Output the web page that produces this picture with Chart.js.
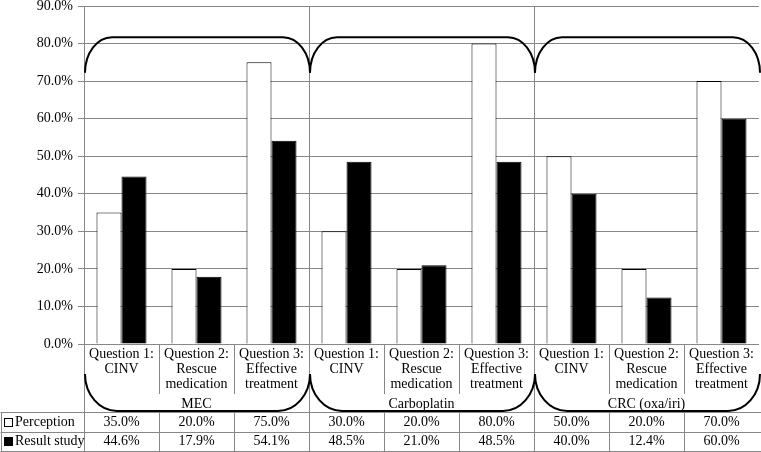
<!DOCTYPE html>
<html>
<head>
<meta charset="utf-8">
<script src="https://cdn.jsdelivr.net/npm/chart.js@4.4.1/dist/chart.umd.min.js"></script>
<style>
  html, body { margin: 0; padding: 0; background: #fff; }
  #wrap { width: 761px; height: 452px; }
</style>
</head>
<body>
<div id="wrap"><canvas id="c" width="761" height="452"></canvas></div>
<script>
// ---- data ----
const groups = ['MEC', 'Carboplatin', 'CRC (oxa/iri)'];
const questionLines = [
  ['Question 1:', 'CINV'],
  ['Question 2:', 'Rescue', 'medication'],
  ['Question 3:', 'Effective', 'treatment']
];
const seriesNames = ['Perception', 'Result study'];
const perception  = [35.0, 20.0, 75.0, 30.0, 20.0, 80.0, 50.0, 20.0, 70.0];
const resultStudy = [44.6, 17.9, 54.1, 48.5, 21.0, 48.5, 40.0, 12.4, 60.0];
const yTicks = [0, 10, 20, 30, 40, 50, 60, 70, 80, 90];

// ---- build ----
const categories = [];
const categoryLines = [];
groups.forEach(g => questionLines.forEach(q => { categories.push(g + ' ' + q.join(' ')); categoryLines.push(q); }));

const FONT = '14px "Liberation Serif", "Times New Roman", serif';
const GRID = '#878787';

const tablePlugin = {
  id: 'tablePlugin',
  afterDraw(chart) {
    const ctx = chart.ctx;
    const x = chart.scales.x, y = chart.scales.y;
    const ca = chart.chartArea;
    const W = chart.width;
    const n = categories.length;
    const step = x.getPixelForValue(1) - x.getPixelForValue(0);
    const bnd = i => Math.round(x.getPixelForValue(i) - step / 2) + 0.5; // left boundary of category i
    const b = ca.bottom;
    const rowTop = Math.round(b + 68) + 0.5, rowMid = Math.round(b + 88) + 0.5, rowBot = Math.round(b + 107) + 0.5;

    ctx.save();
    ctx.strokeStyle = GRID;
    ctx.lineWidth = 1;
    ctx.beginPath();
    for (let g = 1; g < groups.length; g++) {
      const xx = bnd(g * questionLines.length);
      ctx.moveTo(xx, ca.top); ctx.lineTo(xx, rowBot);
    }
    const xl = Math.round(ca.left) + 0.5;
    ctx.moveTo(xl, b); ctx.lineTo(xl, rowBot);
    for (let i = 1; i < n; i++) {
      if (i % questionLines.length === 0) continue;
      const xx = bnd(i);
      ctx.moveTo(xx, b); ctx.lineTo(xx, b + 50);
      ctx.moveTo(xx, rowTop); ctx.lineTo(xx, rowBot);
    }
    [rowTop, rowMid, rowBot].forEach(yy => { ctx.moveTo(0.5, yy); ctx.lineTo(W, yy); });
    ctx.moveTo(1.5, rowTop); ctx.lineTo(1.5, rowBot);
    ctx.stroke();

    // texts
    ctx.fillStyle = '#000';
    ctx.font = FONT;
    ctx.textAlign = 'center';
    ctx.textBaseline = 'middle';
    for (let i = 0; i < n; i++) {
      const cx = x.getPixelForValue(i);
      categoryLines[i].forEach((line, k) => ctx.fillText(line, cx, b + 10 + k * 15));
      ctx.fillText(perception[i].toFixed(1) + '%', cx, b + 78);
      ctx.fillText(resultStudy[i].toFixed(1) + '%', cx, b + 97);
    }
    groups.forEach((g, gi) => {
      const x0 = x.getPixelForValue(gi * 3) - step / 2;
      const x1 = x.getPixelForValue(gi * 3 + 2) + step / 2;
      ctx.fillText(g, (x0 + x1) / 2, b + 60);
    });
    ctx.textAlign = 'left';
    ctx.fillText(seriesNames[0], 15, b + 78);
    ctx.fillText(seriesNames[1], 15, b + 97);
    ctx.fillStyle = '#fff';
    ctx.strokeStyle = '#000';
    ctx.fillRect(4.5, Math.round(b + 74) + 0.5, 8, 8);
    ctx.strokeRect(4.5, Math.round(b + 74) + 0.5, 8, 8);
    ctx.fillStyle = '#000';
    ctx.fillRect(4, Math.round(b + 93), 9, 9);

    // braces
    ctx.strokeStyle = '#000';
    ctx.lineWidth = 2;
    const yT = y.getPixelForValue(81.7), yB = y.getPixelForValue(72.2);
    const rxT = 27;
    const yBT = b + 30, yBB = b + 67;
    const rxB = 32;
    groups.forEach((g, gi) => {
      const x0 = x.getPixelForValue(gi * 3) - step / 2 + 1;
      const x1 = Math.min(x.getPixelForValue(gi * 3 + 2) + step / 2 + 1, W - 1);
      ctx.beginPath();
      ctx.ellipse(x0 + rxT, yB, rxT, yB - yT, 0, Math.PI, 1.5 * Math.PI);
      ctx.lineTo(x1 - rxT, yT);
      ctx.ellipse(x1 - rxT, yB, rxT, yB - yT, 0, 1.5 * Math.PI, 2 * Math.PI);
      ctx.stroke();
      ctx.beginPath();
      ctx.ellipse(x0 + rxB, yBT, rxB, yBB - yBT, 0, Math.PI, 0.5 * Math.PI, true);
      ctx.lineTo(x1 - rxB, yBB);
      ctx.ellipse(x1 - rxB, yBT, rxB, yBB - yBT, 0, 0.5 * Math.PI, 0, true);
      ctx.stroke();
    });
    ctx.restore();
  }
};

new Chart(document.getElementById('c'), {
  type: 'bar',
  data: {
    labels: categories,
    datasets: [
      { label: seriesNames[0], data: perception, backgroundColor: '#ffffff', borderColor: '#000000', borderWidth: 1 },
      { label: seriesNames[1], data: resultStudy, backgroundColor: '#000000', borderColor: '#000000', borderWidth: 1 }
    ]
  },
  options: {
    responsive: false,
    devicePixelRatio: 1,
    animation: false,
    layout: { padding: { left: 0, right: 2, top: 6, bottom: 108 } },
    plugins: { legend: { display: false }, tooltip: { enabled: false } },
    datasets: { bar: { categoryPercentage: 0.667, barPercentage: 1.0 } },
    scales: {
      x: { display: false, offset: true },
      y: {
        min: 0, max: 90,
        afterBuildTicks: s => { s.ticks = yTicks.map(v => ({ value: v })); },
        afterFit: s => { s.width = 84; s.paddingTop = 0; s.paddingBottom = 0; },
        ticks: {
          color: '#000',
          padding: 5,
          font: { family: '"Liberation Serif", "Times New Roman", serif', size: 14 },
          callback: v => Number(v).toFixed(1) + '%'
        },
        grid: { color: GRID, tickLength: 6, drawTicks: true },
        border: { display: true, color: GRID }
      }
    }
  },
  plugins: [tablePlugin]
});
</script>
</body>
</html>
